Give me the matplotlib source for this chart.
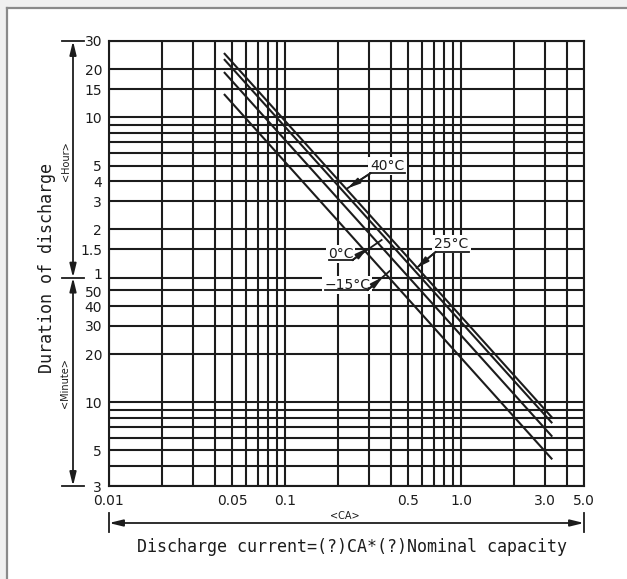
import matplotlib
matplotlib.use("Agg")
import matplotlib.pyplot as plt
from matplotlib.patches import Rectangle
from matplotlib.lines import Line2D
from matplotlib.transforms import ScaledTranslation

# ---------------- data ----------------
current = [0.045, 3.3]                     # discharge current (CA), ends of each line
dur_40 = [1514, 8.0]                       # duration in minutes
dur_25 = [1388, 7.4]
dur_0 = [1152, 6.1]
dur_m15 = [840, 4.4]
series = [dur_40, dur_25, dur_0, dur_m15]

x_major = [0.01, 0.05, 0.1, 0.5, 1.0, 3.0, 5.0]
x_major_labels = ["0.01", "0.05", "0.1", "0.5", "1.0", "3.0", "5.0"]
x_minor = [0.02, 0.03, 0.04, 0.06, 0.07, 0.08, 0.09,
           0.2, 0.3, 0.4, 0.6, 0.7, 0.8, 0.9, 2.0, 4.0]

y_major = [3, 5, 10, 20, 30, 40, 50, 60, 90, 120, 180, 240, 300, 600, 900, 1200, 1800]
y_major_labels = ["3", "5", "10", "20", "30", "40", "50", "1", "1.5", "2", "3", "4", "5",
                  "10", "15", "20", "30"]
y_minor = [4, 6, 7, 8, 9, 360, 420, 480, 540]

# label annotations: text, text pos, underline x-range & y, leader start, leader end, arrow tip
labels = [
    ("40°C", (0.383, 297), (0.306, 0.478), 269, (0.306, 269), (0.227, 217), (0.227, 217)),
    ("25°C", (0.883, 97), (0.717, 1.117), 86.7, (0.717, 86.7), (0.559, 68.9), (0.559, 68.9)),
    ("0°C", (0.207, 84.2), (0.177, 0.242), 77.2, (0.242, 77.2), (0.354, 103), (0.295, 91.8)),
    ("−15°C", (0.226, 53.9), (0.168, 0.295), 50.2, (0.295, 50.2), (0.393, 65.9), (0.359, 60.5)),
]

INK = "#1c1c1c"
MONO = ["DejaVu Sans Mono"]
plt.rcParams['font.family'] = ['DejaVu Sans']

fig = plt.figure(figsize=(6.27, 5.79), dpi=100)
fig.patch.set_facecolor("white")

# screenshot-like frame
fig.patches.append(Rectangle((0, 1 - 7 / 579), 1, 7 / 579, transform=fig.transFigure,
                             facecolor="#f0f0f0", edgecolor="none", zorder=0))
fig.patches.append(Rectangle((0, 0), 6 / 627, 1, transform=fig.transFigure,
                             facecolor="#f0f0f0", edgecolor="none", zorder=0))
fig.lines.append(Line2D([7 / 627, 1], [1 - 8 / 579, 1 - 8 / 579], transform=fig.transFigure,
                        color="#8a8a8a", lw=1.6))
fig.lines.append(Line2D([7 / 627, 7 / 627], [0, 1 - 8 / 579], transform=fig.transFigure,
                        color="#8a8a8a", lw=1.6))

ax = fig.add_axes([109 / 627, 1 - 486 / 579, 475 / 627, 445 / 579])
ax.set_xscale("log")
ax.set_yscale("log")
ax.set_xlim(0.01, 5.0)
ax.set_ylim(3, 1800)

ax.set_xticks(x_major)
ax.set_xticklabels(x_major_labels)
ax.set_xticks(x_minor, minor=True)
ax.set_xticklabels([], minor=True)
ax.set_yticks(y_major)
ax.set_yticklabels(y_major_labels)
ax.set_yticks(y_minor, minor=True)
ax.set_yticklabels([], minor=True)
ax.tick_params(which="both", length=0, labelsize=10, colors=INK)
ax.tick_params(axis="x", pad=6)
ax.tick_params(axis="y", pad=5)
ax.grid(which="both", color=INK, lw=1.5)
ax.set_axisbelow(True)
for s in ax.spines.values():
    s.set_color(INK)
    s.set_linewidth(1.5)

# nudge the crowded "1" / "50" / "40" labels apart, like the reference
shifts = {"1": 4, "50": -1, "40": -1}
for lab, val in zip(ax.get_yticklabels(), y_major):
    t = lab.get_text()
    if val in (60, 50, 40) and t in shifts:
        lab.set_transform(lab.get_transform()
                          + ScaledTranslation(0, shifts[t] / 100, fig.dpi_scale_trans))

for d in series:
    ax.plot(current, d, color=INK, lw=1.5, zorder=3, solid_capstyle="butt")

for txt, tpos, (ux0, ux1), uy, lstart, lend, tip in labels:
    ax.text(tpos[0], tpos[1], txt, ha="center", va="center", fontsize=10, color=INK,
            zorder=6, bbox=dict(facecolor="white", edgecolor="none", pad=1.5))
    ax.plot([ux0, ux1], [uy, uy], color=INK, lw=1.3, zorder=7)
    ax.plot([lstart[0], lend[0]], [lstart[1], lend[1]], color=INK, lw=1.3, zorder=7)
    ax.annotate("", xy=tip, xytext=lstart, zorder=7,
                arrowprops=dict(arrowstyle="-|>,head_length=0.9,head_width=0.22",
                                color=INK, lw=1.3, mutation_scale=8, shrinkA=0, shrinkB=0))

# y dimension line (hours / minutes)
yt = ax.get_yaxis_transform()
xd = (73 - 109) / 475
for a, b in [(60, 1800), (3, 60)]:
    ax.annotate("", xy=(xd, b), xytext=(xd, a), xycoords=yt, textcoords=yt,
                annotation_clip=False,
                arrowprops=dict(arrowstyle="<|-|>,head_length=0.9,head_width=0.22",
                                color=INK, lw=1.3, mutation_scale=9, shrinkA=0, shrinkB=0))
for yv in [3, 60, 1800]:
    ax.plot([(62 - 109) / 475, (84 - 109) / 475], [yv, yv], transform=yt, color=INK,
            lw=1.3, clip_on=False)

# x dimension line
xt = ax.get_xaxis_transform()
yd = (486 - 523) / 445
ax.annotate("", xy=(5.0, yd), xytext=(0.01, yd), xycoords=xt, textcoords=xt,
            annotation_clip=False,
            arrowprops=dict(arrowstyle="<|-|>,head_length=0.9,head_width=0.22",
                            color=INK, lw=1.3, mutation_scale=9, shrinkA=0, shrinkB=0))
for xv in [0.01, 5.0]:
    ax.plot([xv, xv], [(486 - 513) / 445, (486 - 532) / 445], transform=xt, color=INK,
            lw=1.3, clip_on=False)

# texts
fig.text(345 / 627, 1 - 516 / 579, "<CA>", ha="center", va="center", fontsize=7, color=INK)
fig.text(352 / 627, 1 - 547 / 579, "Discharge current=(?)CA*(?)Nominal capacity",
         ha="center", va="center", fontsize=12, color=INK, family=MONO)
fig.text(47 / 627, 1 - 268 / 579, "Duration of discharge", rotation=90,
         ha="center", va="center", fontsize=12, color=INK, family=MONO)
fig.text(66 / 627, 1 - 161 / 579, "<Hour>", rotation=90, ha="center", va="center",
         fontsize=7, color=INK)
fig.text(65 / 627, 1 - 383 / 579, "<Minute>", rotation=90, ha="center", va="center",
         fontsize=7, color=INK)

fig.savefig("out.png", dpi=100)
